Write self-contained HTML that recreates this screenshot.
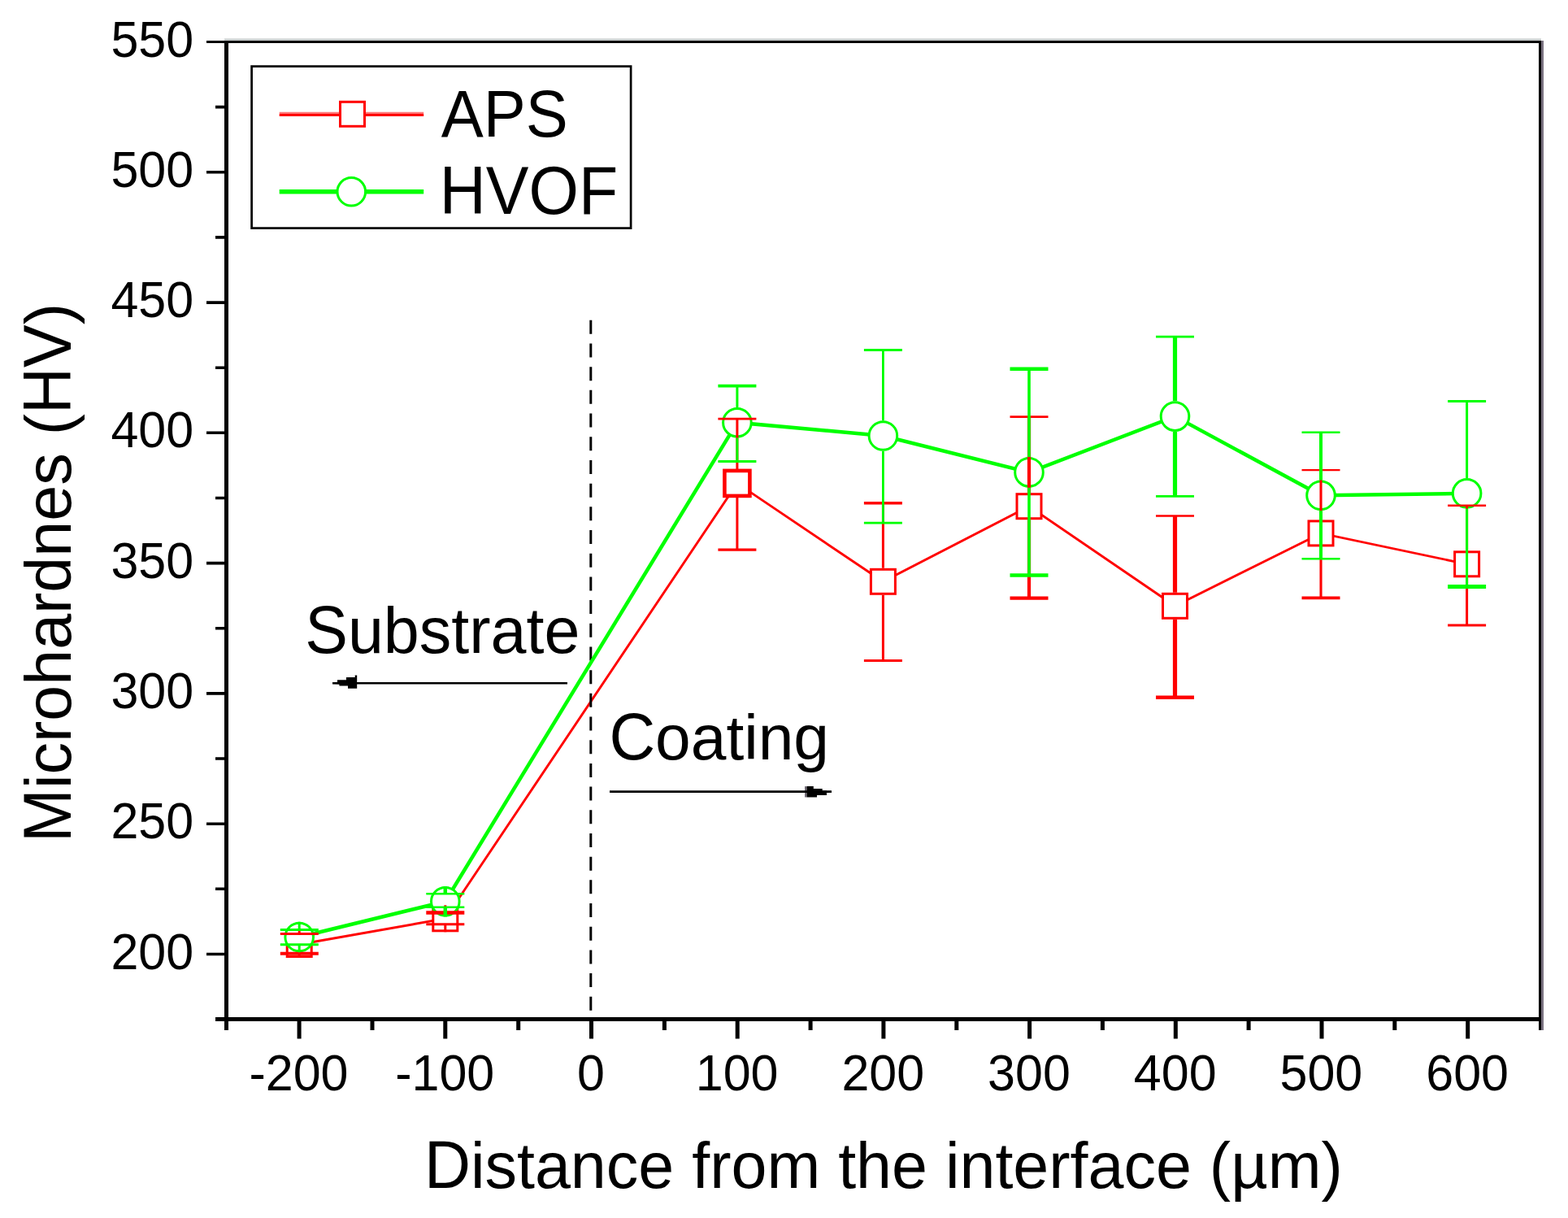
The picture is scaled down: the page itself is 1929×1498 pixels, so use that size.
<!DOCTYPE html>
<html><head><meta charset="utf-8"><title>Microhardness vs distance from the interface</title>
<style>
html,body{margin:0;padding:0;background:#fff;overflow:hidden}
svg{display:block}
text{font-family:"Liberation Sans",Arial,sans-serif;fill:#000;font-kerning:none}
</style></head><body>
<svg width="1929" height="1498" viewBox="0 0 1929 1498">
<rect width="1929" height="1498" fill="#fff"/>
<g stroke="#000" fill="none" stroke-linecap="butt">
<line x1="276" y1="48.6" x2="1896" y2="48.6" stroke="#c4caca" stroke-width="2.2"/>
<line x1="254" y1="51.5" x2="1896" y2="51.5" stroke-width="3"/>
<line x1="1897.5" y1="50" x2="1897.5" y2="1267" stroke="#7a7280" stroke-width="3"/>
<line x1="1894.5" y1="50" x2="1894.5" y2="1267" stroke-width="3"/>
<line x1="278.5" y1="50" x2="278.5" y2="1267" stroke-width="5"/>
<line x1="265" y1="1253.5" x2="1896" y2="1253.5" stroke-width="5"/>
<path d="M254 1173.5H277M254 1013.2H277M254 852.9H277M254 692.6H277M254 532.3H277M254 372.1H277M254 211.8H277" stroke-width="3.6"/>
<path d="M265 1093.3H277M265 933.0H277M265 772.8H277M265 612.5H277M265 452.2H277M265 291.9H277M265 131.6H277" stroke-width="3.6"/>
<path d="M368.1 1255V1277.5M547.8 1255V1277.5M727.5 1255V1277.5M907.2 1255V1277.5M1086.9 1255V1277.5M1266.6 1255V1277.5M1446.3 1255V1277.5M1626.0 1255V1277.5M1805.7 1255V1277.5" stroke-width="5"/>
<path d="M458.0 1255V1267M637.7 1255V1267M817.4 1255V1267M997.1 1255V1267M1176.8 1255V1267M1356.4 1255V1267M1536.1 1255V1267M1715.8 1255V1267" stroke-width="5"/>
</g>
<g font-size="61" text-anchor="end">
<text transform="translate(238.2,1191.5) scale(1,1.035)">200</text>
<text transform="translate(238.2,1031.2) scale(1,1.035)">250</text>
<text transform="translate(238.2,870.9) scale(1,1.035)">300</text>
<text transform="translate(238.2,710.6) scale(1,1.035)">350</text>
<text transform="translate(238.2,550.3) scale(1,1.035)">400</text>
<text transform="translate(238.2,390.1) scale(1,1.035)">450</text>
<text transform="translate(238.2,229.8) scale(1,1.035)">500</text>
<text transform="translate(238.2,69.5) scale(1,1.035)">550</text>
</g>
<g font-size="61" text-anchor="middle">
<text transform="translate(367.5,1341.3) scale(1,1.035)">-200</text>
<text transform="translate(547.2,1341.3) scale(1,1.035)">-100</text>
<text transform="translate(726.9,1341.3) scale(1,1.035)">0</text>
<text transform="translate(906.6,1341.3) scale(1,1.035)">100</text>
<text transform="translate(1086.3,1341.3) scale(1,1.035)">200</text>
<text transform="translate(1266.0,1341.3) scale(1,1.035)">300</text>
<text transform="translate(1445.7,1341.3) scale(1,1.035)">400</text>
<text transform="translate(1625.4,1341.3) scale(1,1.035)">500</text>
<text transform="translate(1805.1,1341.3) scale(1,1.035)">600</text>
</g>
<text x="521.9" y="1461" font-size="79"><tspan font-size="82.55" textLength="57.05" lengthAdjust="spacingAndGlyphs">D</tspan>istance from the interface (µm)</text>
<text transform="translate(86.5,1035.9) rotate(-90)" font-size="79"><tspan font-size="82.55" textLength="65.81" lengthAdjust="spacingAndGlyphs">M</tspan>icrohardnes (<tspan font-size="82.55" textLength="109.74" lengthAdjust="spacingAndGlyphs">HV</tspan>)</text>
<text x="375.2" y="803" font-size="79"><tspan font-size="82.55" textLength="52.69" lengthAdjust="spacingAndGlyphs">S</tspan>ubstrate</text>
<text x="749.4" y="934" font-size="78.5"><tspan font-size="82.03" textLength="56.69" lengthAdjust="spacingAndGlyphs">C</tspan>oating</text>
<line x1="436" y1="840.2" x2="698" y2="840.2" stroke="#000" stroke-width="2.6"/>
<polygon points="409,838.9 415,838.9 415,836.2 426,836.2 426,833 436.7,833 436.7,830.6 439.2,830.6 439.2,846.7 428,846.7 428,843.6 417.4,843.6 417.4,841.8 409,841.5" fill="#000"/>
<line x1="991.3" y1="967.1" x2="991.3" y2="980.5" stroke="#6b6470" stroke-width="2.4"/>
<line x1="750" y1="973.6" x2="1023" y2="973.6" stroke="#000" stroke-width="2.6"/>
<polygon points="992.5,967.1 1000.8,967.1 1000.8,969.9 1011.7,969.9 1011.7,972.4 1017,972.4 1017,977.9 1005,977.9 1005,980.5 992.5,980.5" fill="#000"/>
<polyline points="368.2,1161.5 547.8,1129.8 906.9,594.4 1086.4,715.3 1266.0,622.7 1445.5,745.3 1625.0,655.9 1804.6,693.8" fill="none" stroke="#ff0000" stroke-width="2.9" stroke-linejoin="miter"/>
<rect x="353.2" y="1146.5" width="30.0" height="30.0" fill="#fff" stroke="#ff0000" stroke-width="3.0"/>
<rect x="532.8" y="1114.8" width="30.0" height="30.0" fill="#fff" stroke="#ff0000" stroke-width="3.0"/>
<rect x="891.4" y="578.9" width="31.0" height="31.0" fill="#fff" stroke="#ff0000" stroke-width="4.6"/>
<rect x="1071.4" y="700.3" width="30.0" height="30.0" fill="#fff" stroke="#ff0000" stroke-width="3.0"/>
<rect x="1251.0" y="607.7" width="30.0" height="30.0" fill="#fff" stroke="#ff0000" stroke-width="3.0"/>
<rect x="1430.5" y="730.3" width="30.0" height="30.0" fill="#fff" stroke="#ff0000" stroke-width="3.0"/>
<rect x="1610.0" y="640.9" width="30.0" height="30.0" fill="#fff" stroke="#ff0000" stroke-width="3.0"/>
<rect x="1789.6" y="678.8" width="30.0" height="30.0" fill="#fff" stroke="#ff0000" stroke-width="3.0"/>
<line x1="726.8" y1="393.8" x2="726.8" y2="1243" stroke="#000" stroke-width="3" stroke-dasharray="17 11.69"/>
<polyline points="368.2,1152.5 547.8,1108.7 906.9,519.7 1086.4,536.0 1266.0,580.9 1445.5,512.1 1625.0,609.3 1804.6,606.8" fill="none" stroke="#00ff00" stroke-width="4.5" stroke-linejoin="miter"/>
<circle cx="368.2" cy="1152.5" r="17.3" fill="#fff" stroke="#00ff00" stroke-width="3.0"/>
<circle cx="547.8" cy="1108.7" r="17.3" fill="#fff" stroke="#00ff00" stroke-width="3.0"/>
<circle cx="906.9" cy="519.7" r="17.3" fill="#fff" stroke="#00ff00" stroke-width="3.0"/>
<circle cx="1086.4" cy="536.0" r="17.3" fill="#fff" stroke="#00ff00" stroke-width="3.0"/>
<circle cx="1266.0" cy="580.9" r="17.3" fill="#fff" stroke="#00ff00" stroke-width="3.0"/>
<circle cx="1445.5" cy="512.1" r="17.3" fill="#fff" stroke="#00ff00" stroke-width="3.0"/>
<circle cx="1625.0" cy="609.3" r="17.3" fill="#fff" stroke="#00ff00" stroke-width="3.0"/>
<circle cx="1804.6" cy="606.8" r="17.3" fill="#fff" stroke="#00ff00" stroke-width="3.0"/>
<g stroke="#ff0000">
<path d="M368.2 1148.4V1145.0M368.2 1178.0V1172.7" stroke-width="3.0"/><path d="M344.8 1148.4H391.8" stroke-width="3.0"/><path d="M344.8 1172.7H391.8" stroke-width="4.0"/>
<path d="M547.8 1122.5V1113.3M547.8 1146.3V1136.8" stroke-width="3.0"/><path d="M524.3 1122.5H571.3" stroke-width="4.5"/><path d="M524.3 1136.8H571.3" stroke-width="3.0"/>
<path d="M906.9 515.1V577.9M906.9 610.9V676.2" stroke-width="3.0"/><path d="M883.4 515.1H930.4" stroke-width="2.6"/><path d="M883.4 676.2H930.4" stroke-width="3.3"/>
<path d="M1086.4 618.7V698.8M1086.4 731.8V812.5" stroke-width="3.0"/><path d="M1062.9 618.7H1109.9" stroke-width="3.4"/><path d="M1062.9 812.5H1109.9" stroke-width="3.0"/>
<path d="M1266.0 512.6V606.2M1266.0 639.2V735.7" stroke-width="4.2"/><path d="M1242.5 512.6H1289.5" stroke-width="2.6"/><path d="M1242.5 735.7H1289.5" stroke-width="4.2"/>
<path d="M1445.5 634.5V728.8M1445.5 761.8V857.7" stroke-width="5.2"/><path d="M1422.0 634.5H1469.0" stroke-width="2.7"/><path d="M1422.0 857.7H1469.0" stroke-width="4.6"/>
<path d="M1625.0 578.1V639.4M1625.0 672.4V735.4" stroke-width="3.1"/><path d="M1601.5 578.1H1648.5" stroke-width="2.4"/><path d="M1601.5 735.4H1648.5" stroke-width="3.6"/>
<path d="M1804.6 621.7V677.3M1804.6 710.3V769.1" stroke-width="3.0"/><path d="M1781.1 621.7H1828.1" stroke-width="2.6"/><path d="M1781.1 769.1H1828.1" stroke-width="3.0"/>
</g>
<g stroke="#00ff00">
<path d="M368.2 1143.5V1133.7M368.2 1171.3V1161.8" stroke-width="3.0"/><path d="M344.8 1143.5H391.8" stroke-width="3.2"/><path d="M344.8 1161.8H391.8" stroke-width="3.0"/>
<path d="M547.8 1099.3V1089.9M547.8 1127.5V1115.7" stroke-width="4.5"/><path d="M524.3 1099.3H571.3" stroke-width="2.6"/><path d="M524.3 1115.7H571.3" stroke-width="2.5"/>
<path d="M906.9 474.7V500.9M906.9 538.5V567.4" stroke-width="3.0"/><path d="M883.4 474.7H930.4" stroke-width="3.8"/><path d="M883.4 567.4H930.4" stroke-width="3.0"/>
<path d="M1086.4 430.4V517.2M1086.4 554.8V643.1" stroke-width="2.8"/><path d="M1062.9 430.4H1109.9" stroke-width="3.0"/><path d="M1062.9 643.1H1109.9" stroke-width="2.8"/>
<path d="M1266.0 453.8V562.1M1266.0 599.7V707.5" stroke-width="3.6"/><path d="M1242.5 453.8H1289.5" stroke-width="4.6"/><path d="M1242.5 707.5H1289.5" stroke-width="4.6"/>
<path d="M1445.5 414.1V493.3M1445.5 530.9V610.3" stroke-width="5.2"/><path d="M1422.0 414.1H1469.0" stroke-width="2.8"/><path d="M1422.0 610.3H1469.0" stroke-width="2.8"/>
<path d="M1625.0 531.7V590.5M1625.0 628.1V687.3" stroke-width="4.0"/><path d="M1601.5 531.7H1648.5" stroke-width="2.6"/><path d="M1601.5 687.3H1648.5" stroke-width="2.6"/>
<path d="M1804.6 493.5V588.0M1804.6 625.6V721.5" stroke-width="3.0"/><path d="M1781.1 493.5H1828.1" stroke-width="2.8"/><path d="M1781.1 721.5H1828.1" stroke-width="5.0"/>
</g>
<rect x="309.6" y="81.6" width="466.5" height="199" fill="none" stroke="#000" stroke-width="2.7"/>
<line x1="343.7" y1="138.9" x2="521.2" y2="138.9" stroke="#f77" stroke-width="2.2"/>
<line x1="343.7" y1="141.5" x2="521.2" y2="141.5" stroke="#ff0000" stroke-width="3"/>
<rect x="418.5" y="125.3" width="30.0" height="30.0" fill="#fff" stroke="#ff0000" stroke-width="3.0"/>
<line x1="343.7" y1="235.7" x2="521.2" y2="235.7" stroke="#00ff00" stroke-width="5.4"/>
<circle cx="432.3" cy="235.8" r="17.3" fill="#fff" stroke="#00ff00" stroke-width="3.0"/>
<text transform="translate(542.8,167.5) scale(1,1.045)" font-size="78">APS</text>
<text transform="translate(540.8,262.8) scale(1,1.045)" font-size="79">HVOF</text>
</svg>
</body></html>
